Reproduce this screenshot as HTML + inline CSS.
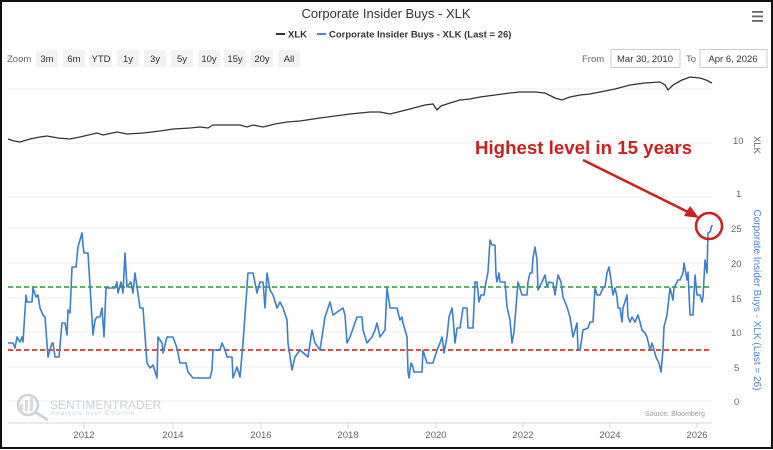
<!DOCTYPE html>
<html><head><meta charset="utf-8"><style>
html,body{margin:0;padding:0;background:#fff;}
body{width:773px;height:450px;overflow:hidden;}
svg{display:block;font-family:"Liberation Sans",sans-serif;}
</style></head><body>
<svg width="773" height="450" viewBox="0 0 773 450">
<rect x="0" y="0" width="773" height="450" fill="#fff"/>
<rect x="1" y="1" width="771" height="447" fill="none" stroke="#111" stroke-width="2"/>
<text x="386" y="18" text-anchor="middle" font-size="13" fill="#333">Corporate Insider Buys - XLK</text>
<!-- hamburger -->
<rect x="752" y="11" width="11" height="1.8" fill="#666"/><rect x="752" y="15.5" width="11" height="1.8" fill="#666"/><rect x="752" y="20" width="11" height="1.8" fill="#666"/>
<!-- legend -->
<line x1="276" y1="34" x2="285" y2="34" stroke="#333" stroke-width="2"/>
<text x="288" y="37.5" font-size="9.5" font-weight="bold" fill="#333">XLK</text>
<line x1="317" y1="34" x2="326" y2="34" stroke="#4a86d0" stroke-width="2"/>
<text x="329" y="37.5" font-size="9.5" font-weight="bold" fill="#333">Corporate Insider Buys - XLK (Last = 26)</text>
<!-- zoom -->
<text x="7" y="62" font-size="9.5" fill="#666">Zoom</text>
<g font-size="9.5" fill="#333" text-anchor="middle">
<rect x="36" y="50" width="22" height="17" fill="#f2f2f2"/><text x="47" y="62">3m</text>
<rect x="63" y="50" width="22" height="17" fill="#f2f2f2"/><text x="74" y="62">6m</text>
<rect x="90" y="50" width="22" height="17" fill="#f2f2f2"/><text x="101" y="62">YTD</text>
<rect x="117" y="50" width="22" height="17" fill="#f2f2f2"/><text x="128" y="62">1y</text>
<rect x="144" y="50" width="22" height="17" fill="#f2f2f2"/><text x="155" y="62">3y</text>
<rect x="171" y="50" width="22" height="17" fill="#f2f2f2"/><text x="182" y="62">5y</text>
<rect x="198" y="50" width="22" height="17" fill="#f2f2f2"/><text x="209" y="62">10y</text>
<rect x="224" y="50" width="22" height="17" fill="#f2f2f2"/><text x="235" y="62">15y</text>
<rect x="251" y="50" width="22" height="17" fill="#f2f2f2"/><text x="262" y="62">20y</text>
<rect x="278" y="50" width="22" height="17" fill="#f2f2f2"/><text x="289" y="62">All</text>
</g>
<text x="582" y="62" font-size="9.5" fill="#666">From</text>
<rect x="611" y="49.5" width="69" height="18" fill="#fff" stroke="#ccc"/>
<text x="645" y="62" font-size="9.5" fill="#333" text-anchor="middle">Mar 30, 2010</text>
<text x="686" y="62" font-size="9.5" fill="#666">To</text>
<rect x="700" y="49.5" width="67" height="18" fill="#fff" stroke="#ccc"/>
<text x="733" y="62" font-size="9.5" fill="#333" text-anchor="middle">Apr 6, 2026</text>
<!-- grid -->
<g stroke="#eee" stroke-width="1">
<line x1="8" y1="89" x2="712" y2="89"/><line x1="8" y1="143" x2="712" y2="143"/><line x1="8" y1="197" x2="712" y2="197"/>
<line x1="8" y1="228" x2="712" y2="228"/><line x1="8" y1="263" x2="712" y2="263"/><line x1="8" y1="298" x2="712" y2="298"/>
<line x1="8" y1="332" x2="712" y2="332"/><line x1="8" y1="367" x2="712" y2="367"/><line x1="8" y1="401" x2="712" y2="401"/>
</g>
<line x1="8" y1="423" x2="712" y2="423" stroke="#ccd6eb"/>
<g stroke="#ccd6eb"><line x1="84" y1="423" x2="84" y2="428"/><line x1="173" y1="423" x2="173" y2="428"/><line x1="261" y1="423" x2="261" y2="428"/><line x1="348" y1="423" x2="348" y2="428"/><line x1="436" y1="423" x2="436" y2="428"/><line x1="523" y1="423" x2="523" y2="428"/><line x1="610" y1="423" x2="610" y2="428"/><line x1="697" y1="423" x2="697" y2="428"/></g>
<g font-size="9.5" fill="#666" text-anchor="middle">
<text x="84" y="438">2012</text><text x="173" y="438">2014</text><text x="261" y="438">2016</text><text x="348" y="438">2018</text><text x="436" y="438">2020</text><text x="523" y="438">2022</text><text x="610" y="438">2024</text><text x="697" y="438">2026</text>
</g>
<g font-size="9.5" fill="#666">
<text x="733" y="144">10</text><text x="736" y="197">1</text>
<text x="731" y="232">25</text><text x="731" y="267">20</text><text x="731" y="302">15</text><text x="731" y="336">10</text><text x="734" y="371">5</text><text x="734" y="405">0</text>
</g>
<text transform="translate(754,145) rotate(90)" font-size="9.5" fill="#666" text-anchor="middle">XLK</text>
<text transform="translate(754,300) rotate(90)" font-size="10" fill="#4a86d0" text-anchor="middle">Corporate Insider Buys - XLK (Last = 26)</text>
<!-- logo -->
<g opacity="0.5">
<circle cx="28" cy="405" r="10" fill="none" stroke="#9ab" stroke-width="2.5"/>
<line x1="35" y1="412" x2="48" y2="420" stroke="#9ab" stroke-width="3"/>
<rect x="20" y="404" width="3" height="7" fill="#bbb"/><rect x="25" y="400" width="3" height="11" fill="#bbb"/><rect x="30" y="397" width="3" height="14" fill="#bbb"/>
<text x="50" y="409" font-size="12" fill="#9aa5b5">SENTIMENTRADER</text>
<text x="51" y="415" font-size="6" fill="#9aa5b5" letter-spacing="1.2">Analysis over Emotion</text>
</g>
<text x="645" y="416" font-size="7" fill="#999">Source: Bloomberg</text>
<!-- dashed lines -->
<line x1="8" y1="287" x2="712" y2="287" stroke="#2a9a2a" stroke-width="1.6" stroke-dasharray="5,3"/>
<line x1="8" y1="350" x2="712" y2="350" stroke="#e03030" stroke-width="1.8" stroke-dasharray="5,3"/>
<!-- XLK -->
<polyline fill="none" stroke="#333" stroke-width="1.3" points="8,139 14,141 20,142 30,139 40,137 47,136 58,138 70,139 80,137 97,133 103,135 117,132 127,134 143,133 160,131 173,129 190,128 200,127 208,128 213,125 230,125 240,125 247,127 253,125 263,127 275,124 287,122 300,121 320,118 335,116 350,114 370,112 380,112 390,114 410,109 425,105 433,104 437,110 441,106 450,103 460,100 470,99 480,97 495,95 510,93 520,92 535,92 545,93 555,98 562,100 570,97 580,95 590,94 600,92 615,89 630,85 645,83 660,82 665,85 668,90 673,85 682,80 690,77 700,78 706,80 712,83"/>
<!-- insider -->
<polyline fill="none" stroke="#3a7fd0" stroke-width="1.6" stroke-linejoin="round" points="8,343 13,343 15,348 17,337 20,342 22,337 23,342 26,295 27,302 32,302 33,288 36,297 38,295 40,308 43,315 45,317 48,357 50,350 52,343 53,343 55,357 59,357 62,323 65,323 67,335 68,310 70,313 72,267 76,267 78,247 82,233 83,245 84,253 88,253 93,335 95,320 97,317 100,317 102,308 104,337 106,288 115,288 117,282 118,293 121,282 123,293 125,253 127,287 131,282 133,293 135,273 137,287 140,308 143,308 147,363 150,368 153,365 157,378 158,337 162,343 163,353 167,337 173,337 177,348 180,363 186,363 188,372 193,378 210,378 212,370 213,350 220,350 222,343 225,350 227,357 232,357 233,378 237,367 240,377 243,343 248,273 253,273 257,293 260,282 263,282 265,308 267,273 270,290 273,295 277,308 280,302 283,308 287,320 288,343 292,370 295,357 300,350 308,357 312,330 315,343 320,350 325,317 330,302 333,315 343,308 345,315 347,343 350,337 357,317 362,317 363,330 367,343 372,337 375,330 377,323 380,337 385,330 387,288 390,308 397,308 400,320 402,317 403,323 405,330 407,337 408,372 409,378 411,363 413,367 414,372 422,372 423,350 425,357 427,363 433,363 437,350 440,343 442,337 443,343 444,353 447,337 449,317 452,308 453,317 455,343 457,328 460,328 463,308 467,308 468,328 473,328 475,282 477,282 479,302 481,295 484,295 486,282 488,272 490,240 492,245 495,245 496,275 497,282 499,273 500,282 505,282 507,307 510,320 512,343 514,332 518,282 522,295 527,295 528,282 530,273 532,273 533,258 535,247 537,260 538,290 542,282 545,275 547,287 549,282 553,283 555,295 557,282 558,275 561,282 563,297 567,307 570,317 573,337 577,323 578,350 580,350 583,330 588,328 590,322 593,322 595,288 597,295 600,295 603,288 605,287 607,273 609,267 611,280 613,295 615,288 617,297 618,308 620,308 622,322 623,308 627,295 628,317 630,322 632,317 635,322 638,315 640,322 642,330 645,333 647,337 650,350 652,343 654,350 656,357 659,363 661,372 663,350 664,327 667,315 670,288 673,300 674,288 678,280 680,280 683,273 684,263 687,280 688,272 690,315 693,315 695,275 697,295 700,295 702,302 703,297 705,260 707,273 708,233 710,232 712,225"/>
<!-- annotation -->
<text x="475" y="154" font-size="18" font-weight="bold" fill="#cc1f1f" textLength="217" lengthAdjust="spacingAndGlyphs">Highest level in 15 years</text>
<line x1="583" y1="160" x2="690" y2="213" stroke="#cc1f1f" stroke-width="2.5"/>
<polygon points="699,218 684,216 690,206" fill="#cc1f1f"/>
<circle cx="709" cy="226" r="13" fill="none" stroke="#cc1f1f" stroke-width="2.5"/>
</svg>
</body></html>
